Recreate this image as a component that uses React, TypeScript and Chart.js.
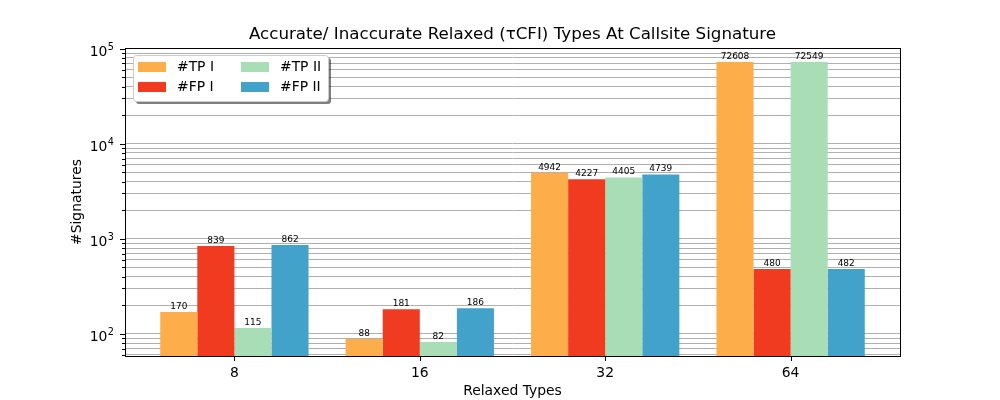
import React, { useEffect, useRef } from "react";
import { Chart, registerables } from "chart.js";

Chart.register(...registerables);

const categories = ["8", "16", "32", "64"];
const tpI = [170, 88, 4942, 72608];
const fpI = [839, 181, 4227, 480];
const tpII = [115, 82, 4405, 72549];
const fpII = [862, 186, 4739, 482];
const seriesLabels = ["#TP I", "#FP I", "#TP II", "#FP II"];
const seriesColors = ["#fdae4b", "#f03b20", "#a8ddb5", "#43a2ca"];
const yTickExponents: Record<number, string> = { 100: "2", 1000: "3", 10000: "4", 100000: "5" };

const titleText = "Accurate/ Inaccurate Relaxed (τCFI) Types At Callsite Signature";
const xTitle = "Relaxed Types";
const yTitle = "#Signatures";
const FONT = "'DejaVu Sans', sans-serif";

const yMin = 58.4;
const yMax = 101900;

function buildLogTicks() {
  const out: number[] = [];
  for (let e = 1; e <= 5; e++) {
    for (let m = 1; m <= 9; m++) {
      const v = m * Math.pow(10, e);
      if (v >= yMin && v <= yMax) out.push(v);
    }
  }
  return out;
}

const decorPlugin = {
  id: "decor",
  afterDatasetsDraw(chart: any) {
    const ctx = chart.ctx;
    ctx.save();
    ctx.fillStyle = "#000";
    ctx.font = `9px ${FONT}`;
    ctx.textAlign = "center";
    ctx.textBaseline = "bottom";
    chart.data.datasets.forEach((ds: any, i: number) => {
      const meta = chart.getDatasetMeta(i);
      meta.data.forEach((el: any, j: number) => {
        ctx.fillText(String(ds.data[j].y), el.x, el.y - 1);
      });
    });
    ctx.restore();
  },
  afterDraw(chart: any) {
    const ctx = chart.ctx;
    const a = chart.chartArea;
    const ys = chart.scales.y;
    const xs = chart.scales.x;
    ctx.save();
    // frame
    ctx.strokeStyle = "#000";
    ctx.lineWidth = 1;
    ctx.strokeRect(Math.round(a.left) + 0.5, Math.round(a.top) + 0.5, Math.round(a.right - a.left), Math.round(a.bottom - a.top));
    // y ticks + mathtext-like labels
    ys.ticks.forEach((t: any) => {
      const p = Math.round(ys.getPixelForValue(t.value)) + 0.5;
      const exp = yTickExponents[t.value];
      const len = exp ? 5 : 3;
      ctx.beginPath();
      ctx.moveTo(a.left - len, p);
      ctx.lineTo(a.left, p);
      ctx.stroke();
      if (exp) {
        ctx.fillStyle = "#000";
        ctx.textBaseline = "alphabetic";
        ctx.textAlign = "right";
        ctx.font = `9.7px ${FONT}`;
        const right = a.left - 11;
        const ew = ctx.measureText(exp).width;
        ctx.fillText(exp, right, p + 0.5);
        ctx.font = `13.9px ${FONT}`;
        ctx.fillText("10", right - ew - 0.5, p + 6.5);
      }
    });
    xs.ticks.forEach((t: any) => {
      const p = Math.round(xs.getPixelForValue(t.value)) + 0.5;
      ctx.beginPath();
      ctx.moveTo(p, a.bottom);
      ctx.lineTo(p, a.bottom + 5);
      ctx.stroke();
    });
    // titles
    ctx.fillStyle = "#000";
    ctx.textAlign = "center";
    ctx.textBaseline = "middle";
    ctx.font = `16.7px ${FONT}`;
    ctx.fillText(titleText, (a.left + a.right) / 2, 35);
    ctx.font = `13.9px ${FONT}`;
    ctx.fillText(xTitle, (a.left + a.right) / 2, 391);
    ctx.save();
    ctx.translate(77, (a.top + a.bottom) / 2);
    ctx.rotate(-Math.PI / 2);
    ctx.fillText(yTitle, 0, 0);
    ctx.restore();
    // legend
    const lx = 133, ly = 55, lw = 195, lh = 46;
    ctx.fillStyle = "rgba(0,0,0,0.5)";
    ctx.beginPath();
    ctx.roundRect(lx + 3, ly + 3, lw, lh, 3);
    ctx.fill();
    ctx.fillStyle = "#fff";
    ctx.strokeStyle = "#cccccc";
    ctx.beginPath();
    ctx.roundRect(lx + 0.5, ly + 0.5, lw, lh, 3);
    ctx.fill();
    ctx.stroke();
    const cols = [138, 241];
    const rows = [62, 82];
    ctx.font = `13.9px ${FONT}`;
    ctx.textAlign = "left";
    chart.data.datasets.forEach((ds: any, i: number) => {
      const c = Math.floor(i / 2), r = i % 2;
      ctx.fillStyle = ds.backgroundColor;
      ctx.fillRect(cols[c], rows[r], 28, 10);
      ctx.fillStyle = "#000";
      ctx.fillText(ds.label, cols[c] + 39, rows[r] + 5.5);
    });
    ctx.restore();
  },
};

export default function App() {
  const ref = useRef<HTMLCanvasElement>(null);
  useEffect(() => {
    document.body.style.margin = "0";
    const series = [tpI, fpI, tpII, fpII];
    const chart = new Chart(ref.current!, {
      type: "bar",
      data: {
        datasets: series.map((s, i) => ({
          label: seriesLabels[i],
          data: s.map((v, j) => ({ x: j, y: v })),
          backgroundColor: seriesColors[i],
          borderWidth: 0,
          categoryPercentage: 0.8,
          barPercentage: 1.0,
        })),
      },
      options: {
        animation: false,
        responsive: false,
        layout: { padding: { top: 48, right: 100, bottom: 0, left: 0 } },
        plugins: { legend: { display: false }, title: { display: false }, tooltip: { enabled: false } },
        scales: {
          x: {
            type: "linear",
            min: -0.59,
            max: 3.59,
            offset: false,
            border: { display: false },
            grid: { display: false, drawTicks: false },
            afterBuildTicks: (s: any) => {
              s.ticks = categories.map((_, i) => ({ value: i }));
            },
            afterFit: (s: any) => {
              s.height = 44;
            },
            ticks: {
              autoSkip: false,
              maxRotation: 0,
              padding: 9,
              color: "#000",
              font: { family: FONT, size: 13.9 },
              callback: (v: any) => categories[Math.round(v)] ?? "",
            },
          },
          y: {
            type: "logarithmic",
            min: yMin,
            max: yMax,
            border: { display: false },
            grid: { color: "#b0b0b0", lineWidth: 1, drawTicks: false },
            afterBuildTicks: (s: any) => {
              s.ticks = buildLogTicks().map((v) => ({ value: v }));
            },
            afterFit: (s: any) => {
              s.width = 125;
            },
            ticks: {
              autoSkip: false,
              padding: 10,
              color: "#000",
              font: { family: FONT, size: 13.9 },
              callback: () => "",
            },
          },
        },
      },
      plugins: [decorPlugin],
    });
    return () => chart.destroy();
  }, []);
  return <canvas ref={ref} width={1000} height={400} style={{ display: "block" }} />;
}
